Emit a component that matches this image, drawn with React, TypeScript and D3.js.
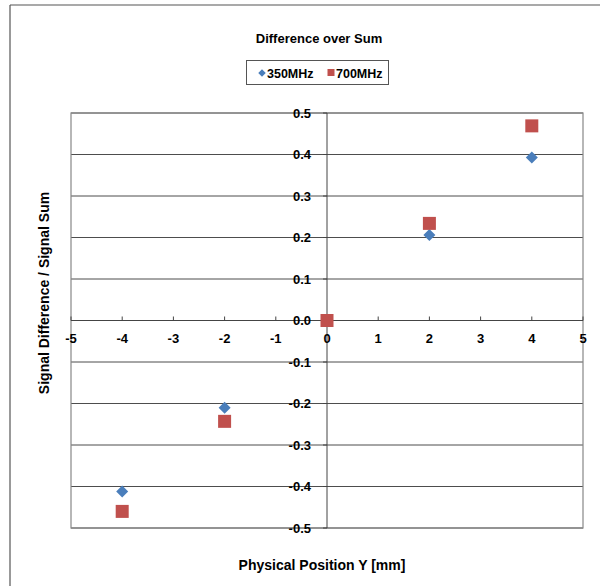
import React from 'react';
import * as d3 from 'd3';

// positions in mm
const positions = [-4, -2, 0, 2, 4];
const series350 = [-0.412, -0.21, 0, 0.206, 0.393];
const series700 = [-0.46, -0.243, 0, 0.234, 0.469];
const xTicks = [-5, -4, -3, -2, -1, 0, 1, 2, 3, 4, 5];
const yTicks = [-0.5, -0.4, -0.3, -0.2, -0.1, 0, 0.1, 0.2, 0.3, 0.4, 0.5];

const W = 600;
const H = 586;
const font = '"Liberation Sans", Arial, sans-serif';

export default function App() {
  const x = d3.scaleLinear().domain([-5, 5]).range([71, 583]);
  const y = d3.scaleLinear().domain([-0.5, 0.5]).range([528, 113]);
  const x0 = x(0);
  const y0 = y(0);

  // excel style diamond = square turned 45deg
  const diamond = d3.symbol().type(d3.symbolSquare).size(72)();
  const legendDiamond = d3.symbol().type(d3.symbolSquare).size(28)();

  return (
    <svg width={W} height={H} style={{ position: 'absolute', left: 0, top: 0, background: '#fff' }}>
      {/* outer frame */}
      <line x1={10} y1={5} x2={W} y2={5} stroke="#8c8c8c" strokeWidth={1.5} />
      <line x1={10} y1={5} x2={10} y2={H} stroke="#555" strokeWidth={1.2} />

      <text x={319} y={43} textAnchor="middle" fontFamily={font} fontWeight="bold" fontSize={13}>
        Difference over Sum
      </text>

      {/* legend */}
      <rect x={246.5} y={60.5} width={142} height={24} fill="#fff" stroke="#555" />
      <path d={legendDiamond} transform="translate(262,73) rotate(45)" fill="#4a7ebb" />
      <text x={267} y={77.5} fontFamily={font} fontWeight="bold" fontSize={12.5}>350MHz</text>
      <rect x={327.5} y={69} width={7} height={7} fill="#c0504d" />
      <text x={336} y={77.5} fontFamily={font} fontWeight="bold" fontSize={12.5}>700MHz</text>

      {/* gridlines */}
      {yTicks.map(t => (
        <line key={'g' + t} x1={x(-5)} x2={x(5)} y1={y(t)} y2={y(t)} stroke="#4d4d4d" strokeWidth={1} />
      ))}
      {/* plot border */}
      <rect x={x(-5)} y={y(0.5)} width={x(5) - x(-5)} height={y(-0.5) - y(0.5)} fill="none" stroke="#888" strokeWidth={1.2} />

      {/* axes */}
      <line x1={x0} x2={x0} y1={y(0.5)} y2={y(-0.5)} stroke="#444" />
      <line x1={x(-5)} x2={x(5)} y1={y0} y2={y0} stroke="#444" />
      {xTicks.map(t => (
        <line key={'xt' + t} x1={x(t)} x2={x(t)} y1={y0} y2={y0 - 4} stroke="#444" />
      ))}
      {yTicks.map(t => (
        <line key={'yt' + t} x1={x0 - 4} x2={x0} y1={y(t)} y2={y(t)} stroke="#444" />
      ))}

      {/* tick labels */}
      {yTicks.map(t => (
        <text key={'yl' + t} x={x0 - 16} y={y(t) + 4.5} textAnchor="end" fontFamily={font} fontWeight="bold" fontSize={13}>
          {d3.format('.1f')(t).replace('−', '-')}
        </text>
      ))}
      {xTicks.map(t => (
        <text key={'xl' + t} x={x(t)} y={y0 + 22} textAnchor="middle" fontFamily={font} fontWeight="bold" fontSize={13}>
          {String(t)}
        </text>
      ))}

      {/* axis titles */}
      <text transform={`translate(49,293) rotate(-90)`} textAnchor="middle" fontFamily={font} fontWeight="bold" fontSize={14}>
        Signal Difference / Signal Sum
      </text>
      <text x={322} y={570} textAnchor="middle" fontFamily={font} fontWeight="bold" fontSize={14}>
        Physical Position Y [mm]
      </text>

      {/* data */}
      {positions.map((p, i) => (
        <path key={'a' + i} d={diamond} transform={`translate(${x(p)},${y(series350[i])}) rotate(45)`} fill="#4a7ebb" />
      ))}
      {positions.map((p, i) => (
        <rect key={'b' + i} x={x(p) - 6.5} y={y(series700[i]) - 6.5} width={13} height={13} fill="#c0504d" />
      ))}
    </svg>
  );
}
